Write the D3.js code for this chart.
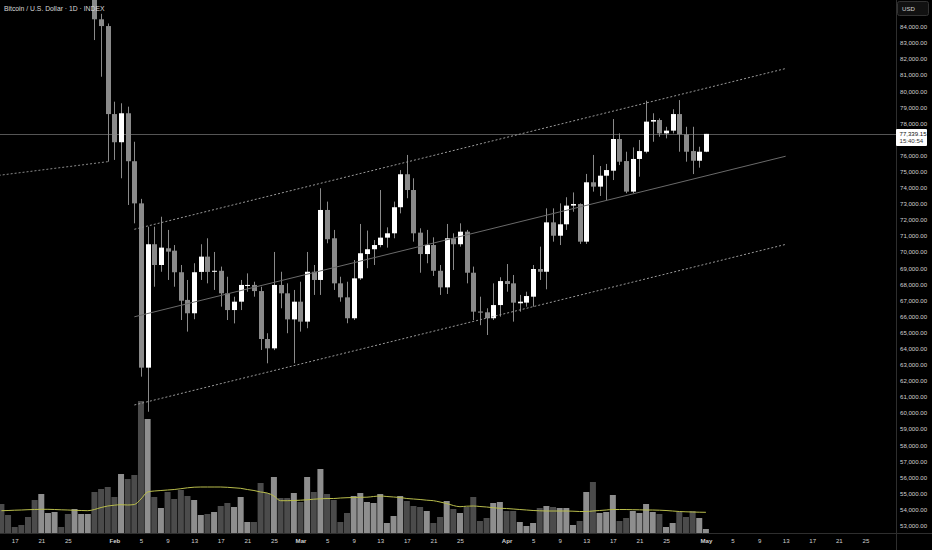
<!DOCTYPE html>
<html><head><meta charset="utf-8">
<script src="https://cdn.jsdelivr.net/npm/d3@7/dist/d3.min.js"></script>
<style>html,body{margin:0;padding:0;background:#000;overflow:hidden}svg{display:block}</style>
</head><body><svg id="chart" width="932" height="550"></svg>
<script>
// ---------- data ----------
const title = "Bitcoin / U.S. Dollar · 1D · INDEX";
const currency = "USD";
const candleStart = "2026-01-29";
const open  = [88500,84460,84040,78570,76820,78620,75640,73020,62810,70480,69190,70230,70080,68740,67020,66190,68760,69710,68800,68830,67430,66390,66910,67920,67950,67570,64590,64010,67950,67430,65810,66910,65670,68770,68260,72610,70850,68050,67180,65880,68360,69870,70170,70430,70890,71160,72780,74830,73850,71200,69870,70430,68830,67800,70850,70480,71260,68710,66300,66250,65880,66700,68190,68050,66810,66850,67220,68940,68770,71840,71010,71720,72880,72980,70640,74330,74060,74740,75050,77020,75650,73750,75780,76230,78100,78200,77370,77540,78570,77310,76270,75670,76230];
const high  = [88800,84800,84200,79340,79240,79030,76850,73300,71570,71570,72190,71370,70430,69190,68260,69300,70480,70850,70000,69090,68460,67220,68260,68670,68150,67840,64950,70000,68770,68050,67640,68150,70000,69190,73960,73130,71370,68460,68150,69500,71740,71330,70740,73850,71530,73130,75090,76030,74580,71470,71370,70910,69190,71740,71160,71780,71370,69090,67220,66500,68050,68430,69250,68570,67330,67530,69190,70330,72710,72710,73020,73400,73700,73020,74850,76030,75340,75470,78260,77370,76230,76500,76960,79400,78620,78300,77780,78870,79440,77780,77780,76540,77340];
const low   = [83170,80890,75610,75720,74580,72920,71780,62250,60070,67840,68770,68260,67840,65770,65050,65820,68260,68050,67640,66600,65770,65560,66390,67530,67220,63910,63080,63900,66500,64950,63080,65050,65260,67330,67330,70540,67640,66910,65570,65770,68260,68990,69190,70290,70270,70850,72400,73340,70640,68710,69300,68510,67330,67390,68880,70330,68050,65770,65450,64840,65770,65980,67530,65670,66290,66600,66600,68260,67680,70640,70430,71370,72500,70500,70500,73750,73480,73230,74470,75400,73650,73650,74680,76130,76850,77160,77060,77370,76230,75610,74840,75240,76200];
const close = [84460,84040,78570,76820,78620,75640,73020,62810,70480,69190,70270,70020,68740,66970,66190,68740,69710,68760,68830,67430,66390,66910,67950,67950,67570,64590,64010,67950,67430,65810,66910,65670,68770,68260,72610,70790,68050,67180,65880,68360,69920,70170,70430,70890,71160,72780,74830,73850,71160,69870,70430,68830,67800,70850,70480,71260,68710,66290,66230,65880,66700,68190,68010,66850,66910,67260,68940,68770,71840,71010,71720,72880,72980,70640,74330,74060,74740,75090,77020,75610,73750,75780,76270,78100,78200,77370,77540,78570,77310,76230,75670,76230,77339.15];
const volStart = "2026-01-15";
const volume = [29,18,6,8,16,33,39,20,21,6,19,24,19,19,41,44,46,36,59,54,58,132,114,36,25,41,34,43,37,33,18,19,21,27,30,26,36,11,11,50,40,56,35,35,40,31,56,41,64,39,33,11,20,37,40,31,30,39,10,17,37,32,27,26,22,10,16,32,24,20,26,36,12,15,30,31,22,22,11,7,10,25,27,26,25,25,8,12,41,51,20,21,38,12,15,22,20,29,21,19,6,10,21,16,22,15,4];
const volUp  = [0,0,0,0,0,0,1,1,1,0,0,1,1,1,0,0,0,0,1,0,0,0,1,0,1,0,0,0,0,1,1,0,1,0,0,1,1,1,0,0,0,1,0,0,1,0,1,0,1,0,0,0,0,1,1,1,1,1,1,1,1,0,0,0,1,0,0,1,0,1,0,0,0,0,1,1,0,0,1,1,1,0,1,0,1,1,1,0,1,0,1,1,1,0,0,1,1,1,1,0,1,1,0,0,0,1,1];
const volMA  = [22.3,22.5,22.8,23,23.3,23.5,23.7,23.7,23.5,23.2,23,22.7,22.5,22.3,23.5,25.5,27,27.8,28.3,28,28.5,34,41,42,42.5,43,43.5,44.3,45.2,45.8,46,46,46,46,45.7,45.2,44.7,43.5,42.5,41,40,37,32.3,32.3,32.5,32.8,33.2,33.8,34.2,34.5,34.5,35,35.3,35.5,35.7,35.8,36.5,37,36.5,36,35.5,34.5,34,33.5,32.8,32.3,31,29.5,27.5,26.3,26.8,27,26.5,26,25.3,24.7,24.5,24,23.5,23,22.5,22.2,22,22,22,22,21.8,21.5,21.5,22,22.5,23,23.5,23.5,23.5,23.3,23.2,23,23,22.8,22.5,22,21.5,21.2,21,20.8,20.7];
const priceTicks = [53000,54000,55000,56000,57000,58000,59000,60000,61000,62000,63000,64000,65000,66000,67000,68000,69000,70000,71000,72000,73000,74000,75000,76000,78000,79000,80000,81000,82000,83000,84000];
const timeTicks = ["2026-01-17","2026-01-21","2026-01-25","2026-02-01","2026-02-05","2026-02-09","2026-02-13","2026-02-17","2026-02-21","2026-02-25","2026-03-01","2026-03-05","2026-03-09","2026-03-13","2026-03-17","2026-03-21","2026-03-25","2026-04-01","2026-04-05","2026-04-09","2026-04-13","2026-04-17","2026-04-21","2026-04-25","2026-05-01","2026-05-05","2026-05-09","2026-05-13","2026-05-17","2026-05-21","2026-05-25"];
const channelDates = ["2026-02-04","2026-05-13"];
const channelUpper = [71410,81400];
const channelMid   = [65970,75950];
const channelLower = [60490,70470];
const oldLineDates  = ["2026-01-14","2026-01-31"];
const oldLinePrices = [74730,75610];
const lastPrice = 77339.15;
const countdown = "15:40:54";

// ---------- layout ----------
const W = 932, H = 550, plotR = 896, plotB = 533;
const parse = d3.utcParse("%Y-%m-%d");
const x = d3.scaleUtc().domain([parse("2026-01-17"), parse("2026-05-25")]).range([14.7, 865.4]);
const y = d3.scaleLinear().domain([53000, 84000]).range([525.5, 26.7]);
const yv = d3.scaleLinear().domain([0, 140]).range([plotB, plotB - 140]);
const FONT = "'Liberation Sans', Arial, sans-serif";
const TXT = "#d1d1d1";

const svg = d3.select("#chart");
svg.append("rect").attr("width", W).attr("height", H).attr("fill", "#000");
svg.append("defs").append("clipPath").attr("id", "plot")
  .append("rect").attr("x", 0).attr("y", 0).attr("width", plotR).attr("height", plotB);
const g = svg.append("g").attr("clip-path", "url(#plot)");

// volume
const vdata = volume.map((v, i) => ({d: d3.utcDay.offset(parse(volStart), i), v, up: volUp[i], ma: volMA[i]}));
g.append("g").selectAll("rect").data(vdata).join("rect")
  .attr("x", d => x(d.d) - 3).attr("width", 6)
  .attr("y", d => yv(d.v)).attr("height", d => plotB - yv(d.v))
  .attr("fill", d => d.up ? "#8e8e8e" : "#4b4b4b");
g.append("path").datum(vdata)
  .attr("d", d3.line().x(d => x(d.d)).y(d => yv(d.ma)).curve(d3.curveMonotoneX))
  .attr("fill", "none").attr("stroke", "#b9bd4c").attr("stroke-width", 1);

// current price line
g.append("line").attr("x1", 0).attr("x2", plotR)
  .attr("y1", Math.round(y(lastPrice)) + 0.5).attr("y2", Math.round(y(lastPrice)) + 0.5)
  .attr("stroke", "#555555").attr("stroke-width", 1);

// candles
const cdata = open.map((o, i) => ({d: d3.utcDay.offset(parse(candleStart), i), o, h: high[i], l: low[i], c: close[i]}));
const cg = g.append("g").selectAll("g").data(cdata).join("g");
cg.append("line")
  .attr("x1", d => Math.round(x(d.d)) + 0.5).attr("x2", d => Math.round(x(d.d)) + 0.5)
  .attr("y1", d => y(d.h)).attr("y2", d => y(d.l))
  .attr("stroke", "#8a8a8a").attr("stroke-width", 1);
cg.append("rect")
  .attr("x", d => Math.round(x(d.d)) - 2).attr("width", 5)
  .attr("y", d => y(Math.max(d.o, d.c)))
  .attr("height", d => Math.max(1, Math.abs(y(d.o) - y(d.c))))
  .attr("fill", d => d.c >= d.o ? "#ffffff" : "#8a8a8a");

// drawings
const lineGen = d3.line().x(d => x(d[0])).y(d => y(d[1]));
const cd = channelDates.map(parse);
g.append("path").attr("d", lineGen(cd.map((d, i) => [d, channelUpper[i]])))
  .attr("stroke", "#9a9a9a").attr("stroke-dasharray", "2,2").attr("fill", "none");
g.append("path").attr("d", lineGen(cd.map((d, i) => [d, channelMid[i]])))
  .attr("stroke", "#6a6a6a").attr("fill", "none");
g.append("path").attr("d", lineGen(cd.map((d, i) => [d, channelLower[i]])))
  .attr("stroke", "#9a9a9a").attr("stroke-dasharray", "2,2").attr("fill", "none");
g.append("path").attr("d", lineGen(oldLineDates.map((d, i) => [parse(d), oldLinePrices[i]])))
  .attr("stroke", "#8a8a8a").attr("stroke-dasharray", "2,2").attr("fill", "none");

// separators
svg.append("line").attr("x1", plotR + 0.5).attr("x2", plotR + 0.5).attr("y1", 0).attr("y2", H).attr("stroke", "#2e2e2e");
svg.append("line").attr("x1", 0).attr("x2", W).attr("y1", plotB + 0.5).attr("y2", plotB + 0.5).attr("stroke", "#2e2e2e");

// price axis
const yAxis = d3.axisRight(y).tickValues(priceTicks).tickSize(0).tickPadding(4).tickFormat(d3.format(",.2f"));
const ya = svg.append("g").attr("transform", `translate(${plotR},0)`).call(yAxis);
ya.select(".domain").remove();
ya.attr("color", TXT);
ya.selectAll("text").attr("fill", TXT).style("font-family", FONT).style("font-size", "6.1px");

// time axis
const monthFmt = d3.utcFormat("%b");
const xAxis = d3.axisBottom(x).tickValues(timeTicks.map(parse)).tickSize(0).tickPadding(6)
  .tickFormat(d => d.getUTCDate() === 1 ? monthFmt(d) : d.getUTCDate());
const xa = svg.append("g").attr("transform", `translate(0,${plotB})`).call(xAxis);
xa.select(".domain").remove();
xa.attr("color", TXT);
xa.selectAll("text").attr("fill", TXT).style("font-family", FONT).style("font-size", "6.1px")
  .style("font-weight", d => d.getUTCDate() === 1 ? "bold" : "normal");

// last price label
const ly = y(lastPrice);
svg.append("rect").attr("x", plotR).attr("y", ly - 5).attr("width", 31).attr("height", 17).attr("fill", "#ffffff").attr("rx", 1);
svg.append("text").attr("x", plotR + 3.5).attr("y", ly + 2.2).text(d3.format(",.2f")(lastPrice))
  .attr("fill", "#111").style("font-family", FONT).style("font-size", "6.1px");
svg.append("text").attr("x", plotR + 3.5).attr("y", ly + 9.2).text(countdown)
  .attr("fill", "#333").style("font-family", FONT).style("font-size", "6.1px");

// currency box
svg.append("rect").attr("x", 897.5).attr("y", 1.5).attr("width", 31).attr("height", 14).attr("rx", 2)
  .attr("fill", "#111").attr("stroke", "#333");
svg.append("text").attr("x", 902).attr("y", 10.7).text(currency)
  .attr("fill", TXT).style("font-family", FONT).style("font-size", "6.1px");

// title
svg.append("text").attr("x", 4).attr("y", 11).text(title)
  .attr("fill", "#d8d8d8").style("font-family", FONT).style("font-size", "6.8px");
</script></body></html>
